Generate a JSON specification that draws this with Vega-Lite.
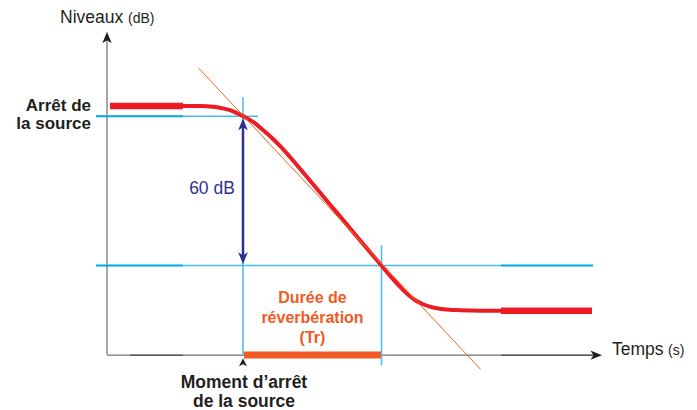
{
  "$schema": "https://vega.github.io/schema/vega-lite/v6.json",
  "width": 697,
  "height": 410,
  "autosize": {"type": "fit", "contains": "padding"},
  "padding": 0,
  "background": "white",
  "config": {"view": {"stroke": null}, "text": {"font": "Liberation Sans"}},
  "datasets": {
    "axisGray": [
      {"t": 0, "db": 0, "t2": 0, "db2": 128.4},
      {"t": 0, "db": -0.3, "t2": 0.23, "db2": -0.3},
      {"t": 0.76, "db": -0.3, "t2": 3.94, "db2": -0.3}
    ],
    "axisDark": [
      {"t": 0.23, "db": -0.3, "t2": 0.76, "db2": -0.3},
      {"t": 3.94, "db": -0.3, "t2": 4.9, "db2": -0.3}
    ],
    "blueDark": [
      {"t": -0.11, "db": 96, "t2": 0.76, "db2": 96},
      {"t": -0.11, "db": 35.8, "t2": 0.76, "db2": 35.8},
      {"t": 3.94, "db": 35.8, "t2": 4.86, "db2": 35.8}
    ],
    "blueLight": [
      {"t": 0.76, "db": 96, "t2": 1.51, "db2": 96},
      {"t": 0.76, "db": 35.8, "t2": 3.94, "db2": 35.8},
      {"t": 1.36, "db": 103.6, "t2": 1.36, "db2": 0},
      {"t": 2.745, "db": 44, "t2": 2.745, "db2": -4.4}
    ],
    "tangent": [
      {"t": 0.913, "db": 115.5, "t2": 3.737, "db2": -6.1}
    ],
    "trBar": [
      {"t": 1.37, "db": -0.2, "t2": 2.74, "db2": -0.2}
    ],
    "navy": [
      {"t": 1.36, "db": 93.2, "t2": 1.36, "db2": 38.5}
    ],
    "redThick": [
      {"t": 0.03, "db": 100.1, "t2": 0.76, "db2": 100.1},
      {"t": 3.94, "db": 17.6, "t2": 4.85, "db2": 17.6}
    ],
    "curve": [
      {"t": 0.76, "db": 100.1},
      {"t": 0.93, "db": 100.1},
      {"t": 1.06, "db": 99.8},
      {"t": 1.15, "db": 99.2},
      {"t": 1.23, "db": 98.4},
      {"t": 1.3, "db": 97.2},
      {"t": 1.37, "db": 95.8},
      {"t": 1.45, "db": 94.0},
      {"t": 1.56, "db": 90.4},
      {"t": 1.65, "db": 87.2},
      {"t": 1.73, "db": 84.0},
      {"t": 1.93, "db": 74.8},
      {"t": 2.13, "db": 65.2},
      {"t": 2.33, "db": 55.6},
      {"t": 2.53, "db": 46.0},
      {"t": 2.74, "db": 36.0},
      {"t": 2.88, "db": 29.4},
      {"t": 2.96, "db": 26.0},
      {"t": 3.03, "db": 23.4},
      {"t": 3.09, "db": 21.6},
      {"t": 3.16, "db": 20.2},
      {"t": 3.25, "db": 19.0},
      {"t": 3.37, "db": 18.2},
      {"t": 3.53, "db": 17.8},
      {"t": 3.73, "db": 17.6},
      {"t": 3.94, "db": 17.6}
    ],
    "arrowsAxis": [
      {"t": 0, "db": 130, "dir": "haut"},
      {"t": 4.95, "db": -0.3, "dir": "droite"}
    ],
    "arrowsNavy": [
      {"t": 1.36, "db": 95.2, "dir": "haut"},
      {"t": 1.36, "db": 36.3, "dir": "bas"}
    ],
    "arrowMoment": [
      {"t": 1.36, "db": -1.6, "dir": "haut"}
    ],
    "titles": [
      {"t": -0.47, "db": 133.6, "label": "Niveaux", "size": "grand"},
      {"t": 0.21, "db": 133.6, "label": "(dB)", "size": "petit"},
      {"t": 5.05, "db": -0.1, "label": "Temps", "size": "grand"},
      {"t": 5.61, "db": -0.1, "label": "(s)", "size": "petit"}
    ],
    "arret": [
      {"t": -0.16, "db": 100.2, "label": "Arrêt de"},
      {"t": -0.16, "db": 92.8, "label": "la source"}
    ],
    "moment": [
      {"t": 1.37, "db": -11.4, "label": "Moment d’arrêt"},
      {"t": 1.37, "db": -19.0, "label": "de la source"}
    ],
    "duree": [
      {"t": 2.055, "db": 22.8, "label": "Durée de"},
      {"t": 2.055, "db": 14.8, "label": "réverbération"},
      {"t": 2.055, "db": 6.8, "label": "(Tr)"}
    ],
    "soixante": [
      {"t": 1.05, "db": 66.8, "label": "60 dB"}
    ]
  },
  "encoding": {
    "x": {"field": "t", "type": "quantitative", "scale": {"domain": [-1.07, 5.9], "nice": false, "zero": false}, "axis": null},
    "y": {"field": "db", "type": "quantitative", "scale": {"domain": [-21.2, 142.8], "nice": false, "zero": false}, "axis": null}
  },
  "layer": [
    {"data": {"name": "axisGray"}, "mark": {"type": "rule", "color": "#6d6e71", "strokeWidth": 1.2}, "encoding": {"x2": {"field": "t2"}, "y2": {"field": "db2"}}},
    {"data": {"name": "axisDark"}, "mark": {"type": "rule", "color": "#231f20", "strokeWidth": 1.4}, "encoding": {"x2": {"field": "t2"}, "y2": {"field": "db2"}}},
    {"data": {"name": "blueLight"}, "mark": {"type": "rule", "color": "#45bdee", "strokeWidth": 1.5}, "encoding": {"x2": {"field": "t2"}, "y2": {"field": "db2"}}},
    {"data": {"name": "blueDark"}, "mark": {"type": "rule", "color": "#00a6e4", "strokeWidth": 2}, "encoding": {"x2": {"field": "t2"}, "y2": {"field": "db2"}}},
    {"data": {"name": "trBar"}, "mark": {"type": "rule", "color": "#f15a24", "strokeWidth": 7}, "encoding": {"x2": {"field": "t2"}, "y2": {"field": "db2"}}},
    {"data": {"name": "navy"}, "mark": {"type": "rule", "color": "#2e3192", "strokeWidth": 2.5}, "encoding": {"x2": {"field": "t2"}, "y2": {"field": "db2"}}},
    {"data": {"name": "curve"}, "mark": {"type": "line", "color": "#ed1c24", "strokeWidth": 4, "interpolate": "monotone"}, "encoding": {}},
    {"data": {"name": "redThick"}, "mark": {"type": "rule", "color": "#ed1c24", "strokeWidth": 6.5}, "encoding": {"x2": {"field": "t2"}, "y2": {"field": "db2"}}},
    {"data": {"name": "tangent"}, "mark": {"type": "rule", "color": "#f26522", "strokeWidth": 1}, "encoding": {"x2": {"field": "t2"}, "y2": {"field": "db2"}}},
    {"data": {"name": "arrowsAxis"}, "mark": {"type": "point", "shape": "M0,0L0.85,2.1L0,1.55L-0.85,2.1Z", "filled": true, "opacity": 1, "color": "#231f20", "size": 121, "strokeWidth": 0},
      "encoding": {"angle": {"field": "dir", "type": "nominal", "scale": {"type": "ordinal", "domain": ["haut", "droite", "bas"], "range": [0, 90, 180]}, "legend": null}}},
    {"data": {"name": "arrowsNavy"}, "mark": {"type": "point", "shape": "M0,0L0.8,2L0,1.5L-0.8,2Z", "filled": true, "opacity": 1, "color": "#2e3192", "size": 144, "strokeWidth": 0},
      "encoding": {"angle": {"field": "dir", "type": "nominal", "scale": {"type": "ordinal", "domain": ["haut", "droite", "bas"], "range": [0, 90, 180]}, "legend": null}}},
    {"data": {"name": "arrowMoment"}, "mark": {"type": "point", "shape": "M0,0L1,2L0,1.5L-1,2Z", "filled": true, "opacity": 1, "color": "#231f20", "size": 64, "strokeWidth": 0},
      "encoding": {"angle": {"field": "dir", "type": "nominal", "scale": {"type": "ordinal", "domain": ["haut", "droite", "bas"], "range": [0, 90, 180]}, "legend": null}}},
    {"data": {"name": "titles"}, "mark": {"type": "text", "align": "left", "baseline": "alphabetic", "color": "#231f20"},
      "encoding": {"text": {"field": "label"}, "size": {"field": "size", "type": "nominal", "scale": {"type": "ordinal", "domain": ["grand", "petit"], "range": [17.5, 14]}, "legend": null}}},
    {"data": {"name": "arret"}, "mark": {"type": "text", "align": "right", "baseline": "middle", "fontWeight": "bold", "fontSize": 17, "color": "#231f20"}, "encoding": {"text": {"field": "label"}}},
    {"data": {"name": "moment"}, "mark": {"type": "text", "align": "center", "baseline": "middle", "fontWeight": "bold", "fontSize": 17.5, "color": "#231f20"}, "encoding": {"text": {"field": "label"}}},
    {"data": {"name": "duree"}, "mark": {"type": "text", "align": "center", "baseline": "middle", "fontWeight": "bold", "fontSize": 16, "color": "#f15a24"}, "encoding": {"text": {"field": "label"}}},
    {"data": {"name": "soixante"}, "mark": {"type": "text", "align": "center", "baseline": "middle", "fontSize": 17.5, "color": "#2e3192"}, "encoding": {"text": {"field": "label"}}}
  ]
}
